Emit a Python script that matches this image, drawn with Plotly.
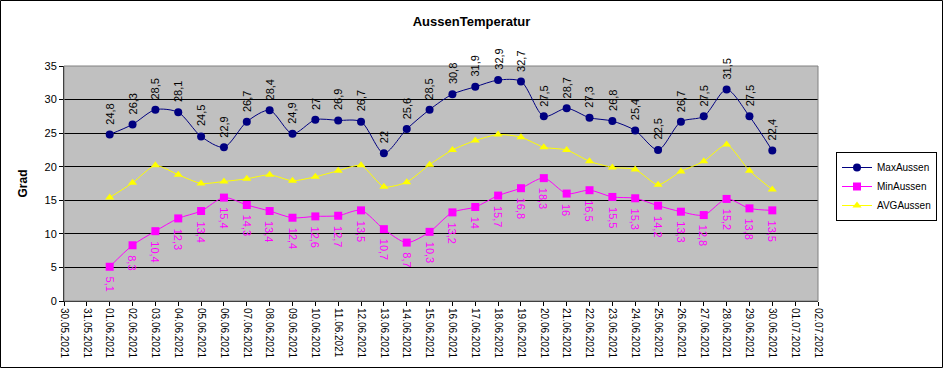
import plotly.graph_objects as go

dates = ["2021-06-%02d" % d for d in range(1, 31)]
max_vals = [24.8, 26.3, 28.5, 28.1, 24.5, 22.9, 26.7, 28.4, 24.9, 27, 26.9, 26.7, 22, 25.6, 28.5,
            30.8, 31.9, 32.9, 32.7, 27.5, 28.7, 27.3, 26.8, 25.4, 22.5, 26.7, 27.5, 31.5, 27.5, 22.4]
min_vals = [5.1, 8.3, 10.4, 12.3, 13.4, 15.4, 14.3, 13.4, 12.4, 12.6, 12.7, 13.5, 10.7, 8.7, 10.3,
            13.2, 14, 15.7, 16.8, 18.3, 16, 16.5, 15.5, 15.3, 14.2, 13.3, 12.8, 15.2, 13.8, 13.5]
avg_vals = [15.4, 17.6, 20.2, 18.8, 17.5, 17.8, 18.2, 18.8, 17.9, 18.5, 19.4, 20.2, 17.0, 17.7, 20.3,
            22.5, 23.9, 24.8, 24.4, 22.9, 22.5, 20.8, 19.9, 19.6, 17.3, 19.3, 20.8, 23.3, 19.4, 16.6]
y_ticks = [0, 5, 10, 15, 20, 25, 30, 35]

FONT = "Liberation Sans, Arial, sans-serif"


def fmt(v):
    s = ("%g" % v)
    return s.replace(".", ",")


fig = go.Figure()
fig.add_trace(go.Scatter(x=dates, y=max_vals, name="MaxAussen", mode="lines+markers",
                         line=dict(color="#000080", width=1, shape="spline", smoothing=0.8),
                         marker=dict(symbol="circle", size=8, color="#000080")))
fig.add_trace(go.Scatter(x=dates, y=min_vals, name="MinAussen", mode="lines+markers",
                         line=dict(color="#FF00FF", width=1, shape="spline", smoothing=0.8),
                         marker=dict(symbol="square", size=8, color="#FF00FF")))
fig.add_trace(go.Scatter(x=dates, y=avg_vals, name="AVGAussen", mode="lines+markers",
                         line=dict(color="#FFFF00", width=1, shape="spline", smoothing=0.6),
                         marker=dict(symbol="triangle-up", size=8, color="#FFFF00")))

annotations = []
for d, v in zip(dates, max_vals):
    annotations.append(dict(x=d, y=v, text=fmt(v), showarrow=False, textangle=-90,
                            yanchor="bottom", xanchor="center", yshift=8,
                            font=dict(family=FONT, size=11, color="#000000")))
for d, v in zip(dates, min_vals):
    annotations.append(dict(x=d, y=v, text=fmt(v), showarrow=False, textangle=90,
                            yanchor="top", xanchor="center", yshift=-8,
                            font=dict(family=FONT, size=11, color="#FF00FF")))

L, R, T, B = 64, 125, 66, 67
W, H = 943, 368
pw, ph = W - L - R, H - T - B

fig.update_layout(
    width=W, height=H,
    margin=dict(l=L, r=R, t=T, b=B, autoexpand=False),
    paper_bgcolor="#FFFFFF",
    plot_bgcolor="#C0C0C0",
    font=dict(family=FONT, size=11, color="#000000"),
    title=dict(text="<b>AussenTemperatur</b>", x=0.5, xref="container", xanchor="center",
               y=1 - 21 / H, yanchor="middle", font=dict(family=FONT, size=13)),
    showlegend=True,
    legend=dict(x=(836 - L) / pw, y=1 - (152 - T) / ph, xanchor="left", yanchor="top",
                bgcolor="#FFFFFF", bordercolor="#000000", borderwidth=1,
                font=dict(family=FONT, size=10), itemwidth=30, tracegroupgap=2),
    annotations=annotations,
    shapes=[dict(type="rect", xref="paper", yref="paper",
                 x0=(0.5 - L) / pw, x1=(W - 0.5 - L) / pw,
                 y0=-(H - 0.5 - T - ph) / ph, y1=1 + (T - 0.5) / ph,
                 line=dict(color="#000000", width=1), fillcolor="rgba(0,0,0,0)", layer="below")],
)
fig.update_xaxes(type="date", range=["2021-05-30", "2021-07-02"], dtick=86400000,
                 tick0="2021-05-30", tickformat="%d.%m.%Y", tickangle=90,
                 showgrid=False, zeroline=False, showline=True, linecolor="#000000", linewidth=1,
                 ticks="outside", ticklen=4, tickcolor="#000000",
                 tickfont=dict(family=FONT, size=10), mirror=False, automargin=False)
fig.update_yaxes(range=[0, 35], tickvals=y_ticks, showgrid=True, gridcolor="#000000", gridwidth=1,
                 zeroline=False, showline=True, linecolor="#000000", linewidth=1,
                 ticks="outside", ticklen=4, tickcolor="#000000",
                 tickfont=dict(family=FONT, size=11), automargin=False,
                 title=dict(text="<b>Grad</b>", font=dict(family=FONT, size=12), standoff=14))
fig.add_shape(type="rect", xref="paper", yref="paper", x0=0, x1=1, y0=0, y1=1,
              line=dict(color="#808080", width=1))

fig.write_html("out.html", config={"displayModeBar": False},
               post_script="document.body.style.margin='0px';document.body.style.overflow='hidden';")
